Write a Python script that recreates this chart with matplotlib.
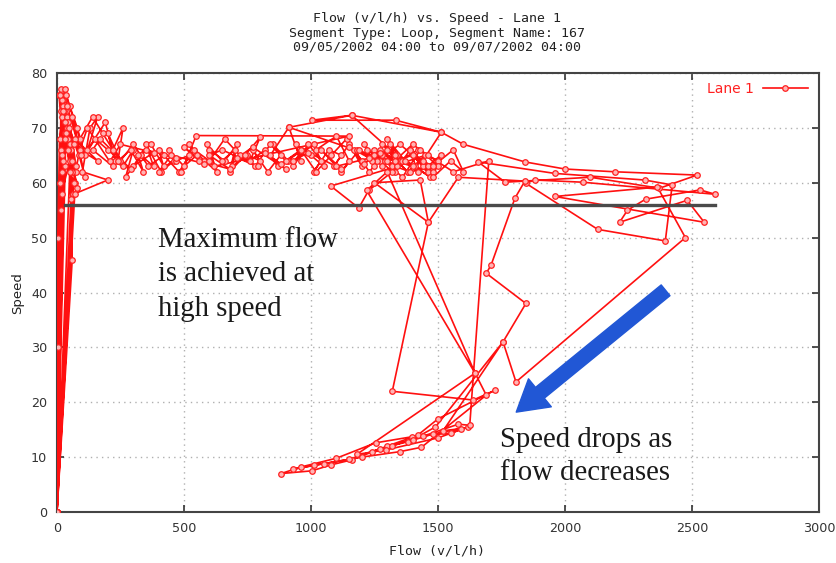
import matplotlib.pyplot as plt
import numpy as np

# %% data (time ordered)
night1_flow = [55, 40, 25, 15, 8, 30, 20, 10, 3, 0, 12, 22, 45, 30, 18, 50, 35, 14, 5, 0,
               20, 42, 62, 38, 25, 70, 48, 60, 0, 15, 33, 75, 52, 28, 85, 66, 0, 70, 200]
night1_speed = [66, 70, 74, 77, 76, 63, 72, 68, 50, 0, 60, 75, 66, 71, 58, 64, 73, 66, 30, 0,
                62, 68, 58, 72, 64, 60, 70, 46, 0, 55, 69, 62, 67, 73, 65, 60, 0, 58, 60.5]

day1_flow = [100, 130, 160, 120, 190, 230, 200, 260, 300, 270, 330, 380, 350, 410, 460, 440,
             500, 550, 520, 580, 630, 600, 660, 710, 690, 750, 800, 770, 830, 880, 850, 910,
             960, 930, 990, 1040, 1010, 1070, 1120, 1090, 1150, 1200, 1170, 1230, 1280, 1250,
             1310, 1360, 1330, 1390, 1440, 1400, 1460, 1500]
day1_speed = [62, 70, 72, 66, 71, 64, 69, 63, 66, 61, 65, 63, 67, 62, 64, 66,
              63, 65, 67, 64, 62, 66, 64, 67, 63, 65, 64, 66, 62, 65, 67, 64,
              66, 63, 67, 64, 62, 66, 65, 63, 67, 64, 66, 62, 65, 63,
              67, 64, 62, 66, 63, 65, 62, 64]

mid1_flow = [1420, 1350, 1280, 1380, 1450, 1320, 1250, 1360, 1160, 1004, 1333, 1513, 1440,
             1380, 1300, 1410, 1470, 1340, 1270, 1390, 1500, 1430, 1360, 1290, 1220, 1340,
             1078, 1188, 1227, 1320, 1250, 1400, 1480, 1350, 1260, 1180, 1300, 913, 1160]
mid1_speed = [66, 64, 67, 62, 65, 63, 66, 64, 72.3, 71.4, 71.4, 69.2, 64,
              62, 66, 63, 61, 65, 64, 62, 63, 66, 61, 64, 66, 63,
              59.4, 55.4, 58.6, 62, 65, 63, 62, 67, 64, 66, 64, 70.1, 72.3]

evening_flow = [1513, 1600, 1842, 2000, 2195, 2520, 2372, 2100, 1764, 1658, 1960, 2313, 2422,
                2395, 2129, 1846, 1881, 2069, 2591, 2532, 2317, 2246, 2215, 2481, 2548, 1960,
                2364, 2474, 1807, 1756, 1846, 1690, 1709, 1803, 1842, 1580, 1462, 1430, 1250,
                1462, 1320, 1639, 1725, 1501, 1420, 1300, 1160, 1080, 1003, 882, 960, 1100,
                1254, 1396, 1552, 1619, 1500, 1294, 1180, 1646, 1219, 1300, 1646, 1690, 1435,
                1350, 1200, 1050, 930, 1010, 1150, 1270, 1380, 1480, 1590, 1520, 1756, 1490,
                1400, 1320, 1240, 1440, 1580, 1625]
evening_speed = [69.2, 67, 63.8, 62.5, 62, 61.4, 59, 61, 60.1, 63.8, 61.7, 60.5, 59.6,
                 49.4, 51.5, 59.9, 60.5, 60.1, 57.9, 58.7, 57, 55, 52.8, 56.8, 52.8, 57.5,
                 59.2, 50, 23.7, 31, 38, 43.5, 45, 57.2, 60.3, 61, 52.8, 60.5, 60,
                 52.8, 22, 20.4, 22.2, 17, 14, 12, 9.5, 8.6, 7.5, 7, 8.2, 9.8,
                 12.6, 13.7, 14.4, 15.5, 13.5, 11.3, 10.5, 25.3, 58.6, 62, 25.3, 21.3, 11.8,
                 11, 10, 8.8, 7.8, 8.5, 9.6, 11.5, 12.8, 14.2, 15.2, 14.8, 31, 15.5,
                 13.2, 12.1, 11, 13.8, 16, 15.8]

night2_flow = [1700, 1560, 1460, 1400, 1330, 1270, 1200, 1140, 1080, 1020, 960, 900, 840, 780,
               720, 660, 600, 540, 480, 420, 360, 300, 250, 200, 150, 110, 80, 50, 30, 15, 0,
               20, 45, 10, 0, 30, 60, 25, 0, 55, 35]
night2_speed = [64, 62, 65, 67, 64, 66, 63, 68, 65, 62, 66, 64, 67, 63,
                65, 68, 64, 66, 62, 65, 63, 67, 64, 66, 68, 65, 70, 74, 77, 73, 0,
                65, 71, 60, 0, 68, 62, 75, 0, 57, 76]

day2_flow = [90, 140, 180, 220, 260, 240, 290, 340, 320, 370, 420, 400, 470, 520, 490, 548,
             1150, 620, 590, 650, 700, 680, 740, 800, 760, 820, 870, 840, 913, 960, 940, 1000,
             1050, 1020, 1100, 1150, 1120, 1190, 1240, 1210, 1280, 1330, 1300, 1370, 1420,
             1390, 1460, 1510, 1480, 1550, 1600, 1560, 1480, 1400, 1330]
day2_speed = [68, 72, 69, 66, 70, 64, 66, 62, 65, 67, 63, 66, 64, 65, 62, 68.6,
              68.5, 63, 67, 64, 66, 62, 65, 68.3, 64, 66, 63, 65, 70.1, 64, 67, 65,
              63, 66, 68.5, 64, 62, 66, 64, 67, 63, 65, 68, 64, 62,
              66, 63, 65, 61, 64, 62, 66, 63, 65, 64]

# second evening / late-night drift back through the free-flow band
late2_flow = [1270, 1210, 1150, 1230, 1100, 1040, 1120, 990, 930, 1010, 880, 820, 900, 770,
              710, 790, 650, 600, 680, 560, 500, 580, 450, 400, 470, 350, 300, 380, 250, 210,
              290, 170, 140, 220, 120, 90, 160, 70, 110, 60, 95, 40, 75, 30, 65, 20, 50, 0,
              35, 80, 25, 58, 12, 45]
late2_speed = [65.5, 63.5, 66.5, 64.5, 63, 66, 62.5, 65.5, 64, 67, 63.5, 65.5, 62.5, 66.5,
               64.5, 63, 66, 65, 62.5, 64, 66.5, 63.5, 65, 62, 64.5, 66, 63, 65.5, 67, 64,
               62.5, 68, 66, 63, 70, 66, 64, 68, 61, 72, 65, 74, 63, 71, 67, 75, 62, 0,
               69, 59, 73, 64, 76, 66]

ref_flow = [30, 2590]
ref_speed = [55.9, 55.9]

flow = np.concatenate([night1_flow, day1_flow, mid1_flow, evening_flow, night2_flow,
                       day2_flow, late2_flow])
speed = np.concatenate([night1_speed, day1_speed, mid1_speed, evening_speed, night2_speed,
                        day2_speed, late2_speed])

# %% plot
W, H = 837, 563
fig = plt.figure(figsize=(W / 100, H / 100), dpi=100)
ax = fig.add_axes([57 / W, 1 - 512 / H, (819 - 57) / W, (512 - 73) / H])

ax.plot(flow, speed, color="#ff1010", lw=1.2, marker="o", ms=4, mfc="#ffb4b4",
        mec="#ff2020", mew=0.9, label="Lane 1", zorder=3)
ax.plot(ref_flow, ref_speed, color="#4a4a4a", lw=2.4, zorder=4)

ax.set_xlim(0, 3000)
ax.set_ylim(0, 80)
ax.set_xticks(range(0, 3001, 500))
ax.set_yticks(range(0, 81, 10))
ax.grid(color="#b0b0b0", linestyle=(0, (1, 3)), lw=1)
ax.tick_params(direction="in", length=5, width=1.2, color="#333333", top=True, right=True,
               labelsize=9.2, labelcolor="#333333", pad=7)
for s in ax.spines.values():
    s.set_color("#444444")
    s.set_linewidth(1.5)

leg = ax.legend(loc="center right", bbox_to_anchor=(0.985, 0.963), frameon=False,
                markerfirst=False, labelcolor="#ff2020", handlelength=3.2,
                handletextpad=0.65, borderpad=0, borderaxespad=0, prop={"size": 10})

# annotations
blue = "#2157d5"
ax.annotate("", xy=(1808, 18.2), xytext=(2396, 40.4),
            arrowprops=dict(arrowstyle="simple,head_length=1.1,head_width=1.3,tail_width=0.5",
                            mutation_scale=20, color=blue, shrinkA=0, shrinkB=0), zorder=5)

serif = {"family": "Liberation Serif", "size": 20.7, "color": "#1a1a1a"}
for txt, yb in [("Maximum flow", 247), ("is achieved at", 281), ("high speed", 316)]:
    fig.text(158 / W, 1 - yb / H, txt, ha="left", va="baseline", fontdict=serif)
for txt, yb in [("Speed drops as", 447), ("flow decreases", 480)]:
    fig.text(500 / W, 1 - yb / H, txt, ha="left", va="baseline", fontdict=serif)

title = ("Flow (v/l/h) vs. Speed - Lane 1\n"
         "Segment Type: Loop, Segment Name: 167\n"
         "09/05/2002 04:00 to 09/07/2002 04:00")
fig.text(437 / W, 1 - 33 / H, title, ha="center", va="center", family="DejaVu Sans Mono",
         size=9.5, color="#222222", linespacing=1.15)
fig.text(437 / W, 1 - 551 / H, "Flow (v/l/h)", ha="center", va="center",
         family="DejaVu Sans Mono", size=9.5, color="#222222")
fig.text(18 / W, 1 - 293 / H, "Speed", ha="center", va="center", rotation=90,
         size=9.5, color="#222222")

fig.savefig("out.png", dpi=100)
